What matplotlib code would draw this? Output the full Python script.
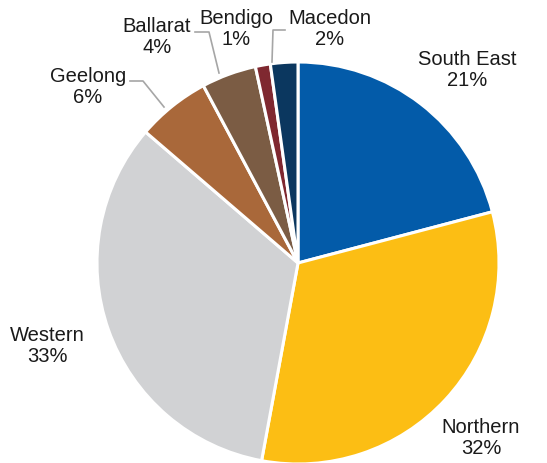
import matplotlib.pyplot as plt

regions = ['South East', 'Northern', 'Western', 'Geelong', 'Ballarat', 'Bendigo', 'Macedon']
shares = [20.9, 32.0, 33.4, 5.9, 4.4, 1.2, 2.2]
colours = ['#035BA9', '#FCBE14', '#D1D2D4', '#A9683A', '#7B5C44', '#7F2830', '#0B375F']

plt.rcParams['font.family'] = ['Liberation Sans', 'DejaVu Sans']

W, H = 547, 463
fig = plt.figure(figsize=(W / 100, H / 100), dpi=100)
ax = fig.add_axes([0, 0, 1, 1])

# pie in pixel space; y axis points down, so start at -90 (top) and run clockwise on screen
ax.pie(shares, colors=colours, startangle=-90, counterclock=True,
       center=(298, 263), radius=201, frame=True,
       wedgeprops=dict(edgecolor='white', linewidth=2.2))
ax.set_xlim(0, W)
ax.set_ylim(H, 0)
ax.set_aspect('equal')
ax.axis('off')

label_pos = {
    'South East': (467, 70),
    'Northern': (481, 438),
    'Western': (47, 346),
    'Geelong': (88, 87),
    'Ballarat': (157, 37),
    'Bendigo': (236, 29),
    'Macedon': (330, 29),
}
for name, val in zip(regions, shares):
    x, y = label_pos[name]
    ax.text(x, y, f'{name}\n{round(val):.0f}%', ha='center', va='center',
            fontsize=14.5, color='#1a1a1a', linespacing=1.15)

# leader lines for the small slices
leaders = [
    [(130, 81), (143, 81), (164, 107)],
    [(195, 32), (209, 32), (219, 73)],
    [(285, 30), (273, 30), (272, 62)],
]
for pts in leaders:
    xs, ys = zip(*pts)
    ax.plot(xs, ys, color='#a6a6a6', linewidth=1.2)

fig.savefig('out.png', dpi=100)
